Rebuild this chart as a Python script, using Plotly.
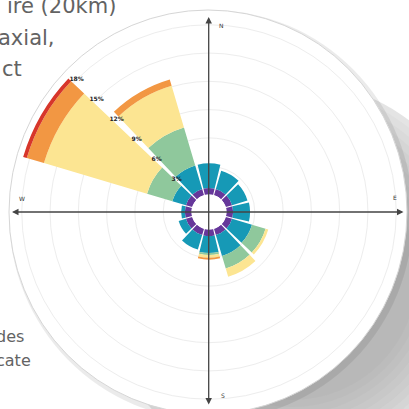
import plotly.graph_objects as go

W = H = 409

# ---- data (wind-rose, % frequency per direction and speed class) ----
directions = [0, 30, 60, 90, 120, 150, 180, 210, 240, 270, 300, 330]
class_names = ["class 1", "class 2", "class 3", "class 4", "class 5", "class 6"]
purple = [0.7, 0.7, 0.7, 0.7, 0.7, 0.7, 0.7, 0.7, 0.7, 0.7, 0.7, 0.7]
teal = [2.6, 2.0, 1.7, 1.8, 2.2, 2.3, 1.8, 1.6, 0.8, 0.4, 1.5, 2.6]
green = [0, 0, 0, 0, 1.5, 1.4, 0.2, 0, 0, 0, 2.8, 4.2]
yellow = [0, 0, 0, 0, 0.3, 0.9, 0.3, 0, 0, 0, 11.4, 4.6]
orange = [0, 0, 0, 0, 0, 0, 0.2, 0, 0, 0, 1.9, 0.7]
red = [0, 0, 0, 0, 0, 0, 0, 0, 0, 0, 0.4, 0]

tick_vals = [3, 6, 9, 12, 15, 18]
tick_text = ["3%", "6%", "9%", "12%", "15%", "18%"]
label_direction = 315

series = [purple, teal, green, yellow, orange, red]
colors = ["#66379a", "#1699b6", "#8fc89c", "#fce592", "#f29743", "#d7362a"]

# ---- geometry helpers (pixel -> paper) ----
def px(x):
    return x / W

def py(y):
    return (H - y) / H

CX, CY = 209, 212
R_DOM = 196
HOLE_PX = 17.5
R_MAX = (R_DOM - HOLE_PX) / 9.43

fig = go.Figure()
for name, vals, col in zip(class_names, series, colors):
    fig.add_trace(go.Barpolar(
        r=vals, theta=directions, width=[27] * len(directions), name=name,
        marker=dict(color=col, line=dict(width=0)), subplot="polar",
        hoverinfo="skip",
    ))
# radial scale labels written along the NW gap, on an overlay subplot
fig.add_trace(go.Scatterpolar(
    r=tick_vals, theta=[label_direction] * len(tick_vals), mode="text",
    text=tick_text, textposition="middle center",
    textfont=dict(size=6, color="#222", family="DejaVu Sans", weight="bold"),
    subplot="polar2", showlegend=False, hoverinfo="skip"))

dom = dict(x=[px(CX - R_DOM), px(CX + R_DOM)], y=[py(CY + R_DOM), py(CY - R_DOM)])
ang = dict(rotation=90, direction="clockwise", showgrid=False,
           showline=False, showticklabels=False, ticks="")

fig.update_layout(
    width=W, height=H, autosize=False,
    margin=dict(l=0, r=0, t=0, b=0),
    paper_bgcolor="white",
    showlegend=False,
    polar=dict(
        domain=dom, hole=HOLE_PX / R_DOM, bgcolor="rgba(0,0,0,0)",
        barmode="stack",
        radialaxis=dict(range=[0, R_MAX], tickvals=tick_vals, showticklabels=False,
                        ticks="", showline=False, gridcolor="#ededed", gridwidth=1,
                        layer="below traces"),
        angularaxis=ang,
    ),
    polar2=dict(
        domain=dom, hole=HOLE_PX / R_DOM, bgcolor="rgba(0,0,0,0)",
        radialaxis=dict(range=[0, R_MAX], showticklabels=False, showgrid=False,
                        ticks="", showline=False),
        angularaxis=ang,
    ),
)

# ---- background: page shadow and white disk ----
def ellipse(cx, cy, rx, ry, fill, line=None):
    return dict(type="circle", xref="paper", yref="paper",
                x0=px(cx - rx), x1=px(cx + rx), y0=py(cy + ry), y1=py(cy - ry),
                fillcolor=fill, line=line or dict(width=0), layer="below")

shapes = [ellipse(292, 275, 194, 194, "rgba(120,120,120,0.20)")]
for r in range(188, 120, -7):
    shapes.append(ellipse(292, 275, r, r, "rgba(110,110,110,0.045)"))
shapes.append(ellipse(211, 215, 202, 205, "rgba(0,0,0,0.08)"))
shapes.append(ellipse(208, 212, 199, 202, "white", dict(color="#d6d6d6", width=1)))
fig.update_layout(shapes=shapes)

# ---- axis arrows and compass letters ----
ann = []
ann.append(dict(x=px(12), y=py(CY), xref="paper", yref="paper", ax=393, ay=0,
                text="", showarrow=True, arrowhead=2, startarrowhead=2,
                arrowside="end+start", arrowsize=1, arrowwidth=1.3, arrowcolor="#444"))
ann.append(dict(x=px(208.7), y=py(17), xref="paper", yref="paper", ax=0, ay=389,
                text="", showarrow=True, arrowhead=2, startarrowhead=2,
                arrowside="end+start", arrowsize=1, arrowwidth=1.3, arrowcolor="#444"))
for t, x, y in [("N", 222, 25), ("E", 395, 197), ("S", 223, 395), ("W", 22, 198)]:
    ann.append(dict(x=px(x), y=py(y), xref="paper", yref="paper", text=t,
                    xanchor="center", yanchor="middle", showarrow=False,
                    font=dict(size=6, color="#333", family="DejaVu Sans")))

# ---- surrounding page text ----
for t, xr, yc, s in [("ire (20km)", 117, 6, 21), ("axial,", 56, 38, 21), ("ct", 23, 69, 21),
                     ("des", 25, 336, 16), ("cate", 32, 360, 16)]:
    ann.append(dict(x=px(xr), y=py(yc), xref="paper", yref="paper", text=t,
                    xanchor="right", yanchor="middle", showarrow=False, borderpad=0,
                    font=dict(size=s, color="#636363", family="DejaVu Sans")))
fig.update_layout(annotations=ann)

fig.write_html("out.html", config={"displayModeBar": False},
               post_script="document.body.style.margin='0px';")
